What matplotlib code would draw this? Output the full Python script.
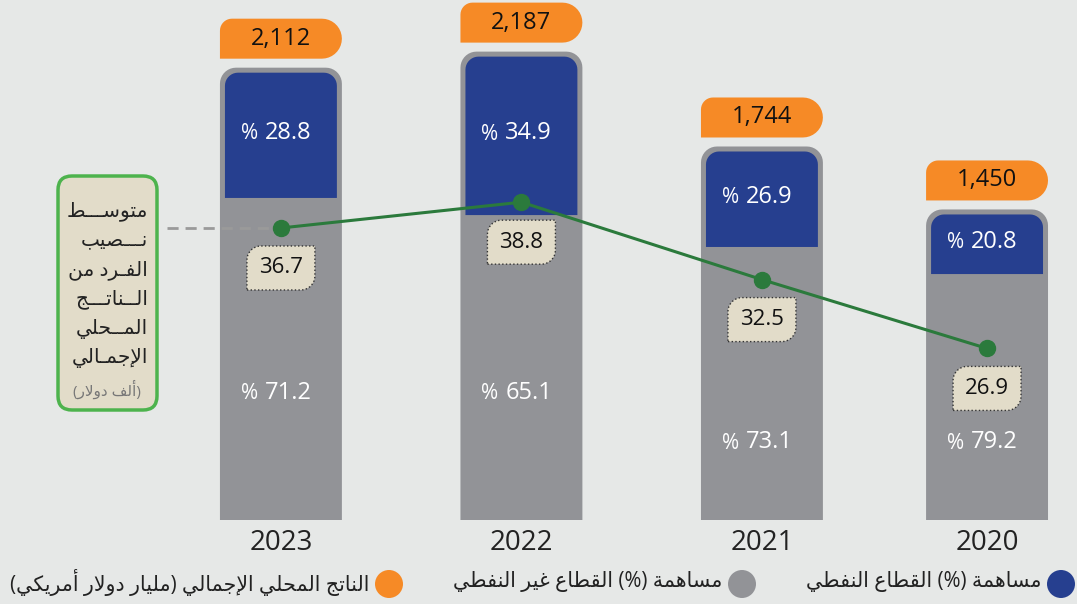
import numpy as np
import matplotlib.pyplot as plt
from matplotlib.patches import Polygon, FancyBboxPatch, Circle

plt.rcParams['font.family'] = ['Open Sans', 'DejaVu Sans']

# data (bars drawn right-to-left as in the source: 2023 first)
years = ['2023', '2022', '2021', '2020']
gdp = [2112, 2187, 1744, 1450]               # billion USD
oil_share = [28.8, 34.9, 26.9, 20.8]         # %
nonoil_share = [71.2, 65.1, 73.1, 79.2]      # %
gdp_per_capita = [36.7, 38.8, 32.5, 26.9]    # thousand USD

legend_oil = 'مساهمة (%) القطاع النفطي'
legend_nonoil = 'مساهمة (%) القطاع غير النفطي'
legend_gdp = 'الناتج المحلي الإجمالي (مليار دولار أمريكي)'
box_lines = ['متوســـط', 'نـــصيب', 'الفـرد من', 'الــناتـــج', 'المــحلي', 'الإجمـالي']
box_unit = '(ألف دولار)'

# layout
bar_x = [0, 1, 2, 2.936]
bar_w = 0.507
nonoil_label_y = [593, 593, 364, 364]

C_BG = '#e6e8e7'
C_GRAY = '#929397'
C_NAVY = '#263f8f'
C_ORANGE = '#f68a26'
C_GREEN = '#2b7a3c'
C_BEIGE = '#e2dcc9'

# minimal arabic shaping (presentation forms) + visual order
DUAL = {'ب': 0xFE8F, 'ت': 0xFE95, 'ج': 0xFE9D, 'ح': 0xFEA1, 'س': 0xFEB1,
        'ص': 0xFEB9, 'ط': 0xFEC1, 'ع': 0xFEC9, 'غ': 0xFECD, 'ف': 0xFED1,
        'ق': 0xFED5, 'ك': 0xFED9, 'ل': 0xFEDD, 'م': 0xFEE1, 'ن': 0xFEE5,
        'ه': 0xFEE9, 'ي': 0xFEF1}
RIGHT = {'ا': 0xFE8D, 'أ': 0xFE83, 'إ': 0xFE87, 'ة': 0xFE93, 'د': 0xFEA9,
         'ر': 0xFEAD, 'و': 0xFEED}
LAM_ALEF = {'ا': 0xFEFB, 'أ': 0xFEF7, 'إ': 0xFEF9}
TATWEEL = 'ـ'


def links_next(c):
    return c in DUAL or c == TATWEEL


def links_prev(c):
    return c in DUAL or c in RIGHT or c == TATWEEL


def arabic(text):
    out = []
    i = 0
    while i < len(text):
        c = text[i]
        prev = text[i - 1] if i > 0 else ' '
        nxt = text[i + 1] if i + 1 < len(text) else ' '
        jp = links_next(prev) and links_prev(c)
        if c == 'ل' and nxt in LAM_ALEF:
            out.append(chr(LAM_ALEF[nxt] + jp))
            i += 2
            continue
        jn = links_next(c) and links_prev(nxt)
        if c in DUAL:
            form = {(False, False): 0, (True, False): 1,
                    (False, True): 2, (True, True): 3}[(jp, jn)]
            out.append(chr(DUAL[c] + form))
        elif c in RIGHT:
            out.append(chr(RIGHT[c] + jp))
        else:
            out.append(c)
        i += 1
    mirror = {'(': ')', ')': '('}
    return ''.join(mirror.get(ch, ch) for ch in reversed(out))


def rounded(ax, x0, y0, x1, y1, radii, sx, sy, **kw):
    # radii in pixels: bottom-left, bottom-right, top-right, top-left
    bl, br, tr, tl = radii
    corners = [(x0 + bl / sx, y0 + bl / sy, bl, np.pi, 1.5 * np.pi),
               (x1 - br / sx, y0 + br / sy, br, 1.5 * np.pi, 2 * np.pi),
               (x1 - tr / sx, y1 - tr / sy, tr, 0, 0.5 * np.pi),
               (x0 + tl / sx, y1 - tl / sy, tl, 0.5 * np.pi, np.pi)]
    pts = []
    for cx, cy, r, a0, a1 in corners:
        t = np.linspace(a0, a1, 10)
        pts += list(zip(cx + r * np.cos(t) / sx, cy + r * np.sin(t) / sy))
    p = Polygon(pts, closed=True, **kw)
    ax.add_patch(p)
    return p


W, H = 1077, 604
fig = plt.figure(figsize=(W / 100, H / 100), dpi=100, facecolor=C_BG)

# overlay in pixel coords for the side box and legend
ov = fig.add_axes([0, 0, 1, 1], zorder=0)
ov.set_xlim(0, W)
ov.set_ylim(H, 0)
ov.axis('off')

ax = fig.add_axes([0, 84 / H, 1, 520 / H], zorder=1)
ax.set_xlim(-1.168, 3.310)
ax.set_ylim(0, 2428)
ax.axis('off')
sx = W / (3.310 + 1.168)
sy = 520 / 2428

ax2 = ax.twinx()
ax2.set_zorder(2)
ax2.set_ylim(12.94, 55.25)
ax2.axis('off')
sy2 = 520 / (55.25 - 12.94)

for i in range(len(years)):
    x = bar_x[i]
    x0, x1 = x - bar_w / 2, x + bar_w / 2
    top = gdp[i]
    split = gdp[i] * nonoil_share[i] / 100
    rounded(ax, x0, 0, x1, top, (0, 0, 16, 16), sx, sy, facecolor=C_GRAY, edgecolor='none')
    rounded(ax, x0 + 5 / sx, split, x1 - 5 / sx, top - 5 / sy, (0, 0, 13, 13), sx, sy,
            facecolor=C_NAVY, edgecolor='none')
    # orange total label
    oy0 = top + 9 / sy
    rounded(ax, x0, oy0, x1, oy0 + 40 / sy, (0, 20, 20, 12), sx, sy,
            facecolor=C_ORANGE, edgecolor='none')
    ax.text(x, oy0 + 20 / sy, f'{gdp[i]:,}', ha='center', va='center',
            fontsize=17, color='#111111')
    # shares
    ny = (split + top) / 2
    ax.annotate(f'{oil_share[i]}', (x, ny), xytext=(-16, 0), textcoords='offset pixels',
                ha='left', va='center', fontsize=17, color='white')
    ax.annotate('%', (x, ny), xytext=(-23, -1), textcoords='offset pixels',
                ha='right', va='center', fontsize=15, color='white')
    ax.annotate(f'{nonoil_share[i]}', (x, nonoil_label_y[i]), xytext=(-16, 0),
                textcoords='offset pixels', ha='left', va='center', fontsize=17, color='white')
    ax.annotate('%', (x, nonoil_label_y[i]), xytext=(-23, -1), textcoords='offset pixels',
                ha='right', va='center', fontsize=15, color='white')
    ax.annotate(years[i], (x, 0), xytext=(0, -23), textcoords='offset pixels',
                ha='center', va='center', fontsize=20, color='#222222', annotation_clip=False)

# per-capita line
ax2.plot([-0.474, bar_x[0]], [gdp_per_capita[0]] * 2, color='#9a9a9a', lw=2,
         dashes=(4, 2.5), zorder=1, clip_on=False)
ax2.plot(bar_x, gdp_per_capita, color=C_GREEN, lw=2.2, marker='o', markersize=11.5,
         markerfacecolor=C_GREEN, markeredgecolor=C_GREEN, zorder=3)
for x, v in zip(bar_x, gdp_per_capita):
    cy = v - 40 / sy2
    rounded(ax2, x - 34 / sx, cy - 22 / sy2, x + 34 / sx, cy + 22 / sy2, (0, 14, 0, 14),
            sx, sy2, facecolor=C_BEIGE, edgecolor='#333333', lw=1, linestyle=':', zorder=4)
    ax2.text(x, cy, f'{v}', ha='center', va='center', fontsize=16, color='#111111', zorder=5)

# side box
ov.add_patch(FancyBboxPatch((58, 176), 99, 234, boxstyle='round,pad=0,rounding_size=14',
                            facecolor=C_BEIGE, edgecolor='#4db34d', lw=2.5))
for k, line in enumerate(box_lines):
    ov.text(148, 211 + k * 29.5, arabic(line), ha='right', va='center',
            fontsize=14.5, color='#222222')
ov.text(107, 390, arabic(box_unit), ha='center', va='center', fontsize=11, color='#777777')

# legend
for cx, col, label in [(1061, C_NAVY, legend_oil), (742, C_GRAY, legend_nonoil),
                       (389, C_ORANGE, legend_gdp)]:
    ov.add_patch(Circle((cx, 584), 14, facecolor=col, edgecolor='none'))
    ov.text(cx - 20, 582, arabic(label), ha='right', va='center', fontsize=14.8, color='#222222')

fig.savefig('out.png', dpi=100, facecolor=C_BG)
